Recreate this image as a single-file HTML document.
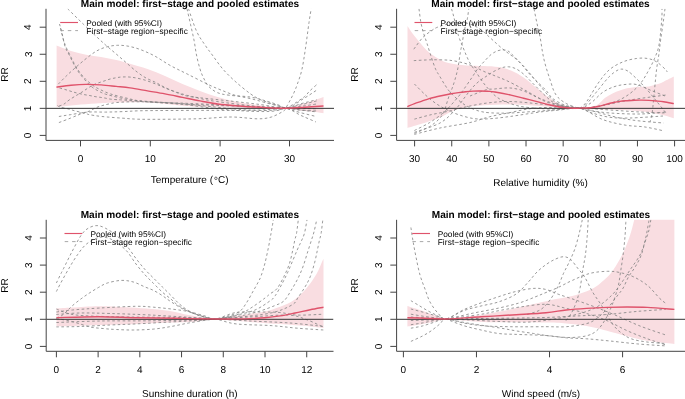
<!DOCTYPE html>
<html><head><meta charset="utf-8"><style>
*{margin:0;padding:0}
html,body{width:685px;height:399px;background:#fff;overflow:hidden}
svg{display:block}
text{font-family:"Liberation Sans",sans-serif;fill:#000;text-rendering:geometricPrecision}
.tl{font-size:10px}
.lb{font-size:10px}
.ti{font-size:10.07px;font-weight:bold}
.lg{font-size:8.3px}
.ax{fill:none;stroke:#444;stroke-width:1}
.tk{stroke:#444;stroke-width:1}
.ab{stroke:#333;stroke-width:1}
.rl{fill:none;stroke:#DF536B;stroke-width:1.4}
.txt{filter:grayscale(1)}
.dc{fill:none;stroke:#808080;stroke-width:0.8;stroke-dasharray:2.6 2.5}
</style></head>
<body><svg width="685" height="399" viewBox="0 0 685 399">
<rect width="685" height="399" fill="#fff"/>
<clipPath id="cp1"><rect x="46" y="8.8" width="288" height="131.6"/></clipPath>
<g clip-path="url(#cp1)">
<path d="M56.60,45.50C59.00,46.42 66.08,49.45 71.00,51.00C75.92,52.55 81.08,53.78 86.10,54.80C91.12,55.82 96.08,56.22 101.10,57.10C106.12,57.98 111.38,58.98 116.20,60.10C121.02,61.22 124.78,62.32 130.00,63.80C135.22,65.28 141.67,66.97 147.50,69.00C153.33,71.03 159.17,73.52 165.00,76.00C170.83,78.48 176.67,81.42 182.50,83.90C188.33,86.38 194.15,88.72 200.00,90.90C205.85,93.08 211.75,95.25 217.60,97.00C223.45,98.75 229.70,100.23 235.10,101.40C240.50,102.57 245.02,103.23 250.00,104.00C254.98,104.77 259.00,105.37 265.00,106.00C271.00,106.63 280.17,108.05 286.00,107.80C291.83,107.55 295.17,105.80 300.00,104.50C304.83,103.20 311.08,101.25 315.00,100.00C318.92,98.75 322.08,97.50 323.50,97.00L323.50,113.20C322.08,113.00 318.92,112.45 315.00,112.00C311.08,111.55 304.83,111.07 300.00,110.50C295.17,109.93 296.00,109.05 286.00,108.60C276.00,108.15 254.33,108.10 240.00,107.80C225.67,107.50 210.40,107.23 200.00,106.80C189.60,106.37 186.20,105.92 177.60,105.20C169.00,104.48 158.67,102.93 148.40,102.50C138.13,102.07 124.72,102.42 116.00,102.60C107.28,102.78 102.75,103.18 96.10,103.60C89.45,104.02 82.28,104.52 76.10,105.10C69.92,105.68 62.25,106.73 59.00,107.10C55.75,107.47 57.00,107.27 56.60,107.30Z" fill="#F9DDE1"/>
<path d="M67.70,8.80C70.33,11.38 78.82,19.77 83.50,24.30C88.18,28.83 92.12,32.55 95.80,36.00C99.48,39.45 102.20,42.00 105.60,45.00C109.00,48.00 112.68,50.98 116.20,54.00C119.72,57.02 123.20,60.08 126.70,63.10C130.20,66.12 133.95,69.60 137.20,72.10C140.45,74.60 143.07,76.35 146.20,78.10C149.33,79.85 152.87,81.03 156.00,82.60C159.13,84.17 161.55,85.83 165.00,87.50C168.45,89.17 173.00,91.17 176.70,92.60C180.40,94.03 183.12,95.22 187.20,96.10C191.28,96.98 194.07,97.08 201.20,97.90C208.33,98.72 220.20,99.90 230.00,101.00C239.80,102.10 250.67,103.30 260.00,104.50C269.33,105.70 279.33,108.28 286.00,108.20C292.67,108.12 294.90,105.42 300.00,104.00C305.10,102.58 313.83,100.42 316.60,99.70" class="dc"/>
<path d="M59.50,24.00C59.92,25.50 61.08,29.25 62.00,33.00C62.92,36.75 63.75,42.75 65.00,46.50C66.25,50.25 68.00,52.48 69.50,55.50C71.00,58.52 72.48,61.83 74.00,64.60C75.52,67.37 76.83,69.60 78.60,72.10C80.37,74.60 82.35,77.10 84.60,79.60C86.85,82.10 89.60,85.10 92.10,87.10C94.60,89.10 97.10,90.35 99.60,91.60C102.10,92.85 102.37,93.28 107.10,94.60C111.83,95.92 121.52,98.38 128.00,99.50C134.48,100.62 137.33,100.55 146.00,101.30C154.67,102.05 168.50,102.80 180.00,104.00C191.50,105.20 204.17,107.33 215.00,108.50C225.83,109.67 236.17,110.50 245.00,111.00C253.83,111.50 262.17,111.67 268.00,111.50C273.83,111.33 277.00,110.55 280.00,110.00C283.00,109.45 282.67,108.20 286.00,108.20C289.33,108.20 294.90,109.38 300.00,110.00C305.10,110.62 313.83,111.58 316.60,111.90" class="dc"/>
<path d="M60.50,28.00C60.88,29.58 61.92,34.42 62.80,37.50C63.68,40.58 64.57,43.50 65.80,46.50C67.03,49.50 68.70,52.48 70.20,55.50C71.70,58.52 73.25,61.83 74.80,64.60C76.35,67.37 77.68,69.65 79.50,72.10C81.32,74.55 83.45,77.07 85.70,79.30C87.95,81.53 90.62,83.80 93.00,85.50C95.38,87.20 97.05,88.08 100.00,89.50C102.95,90.92 106.00,92.50 110.70,94.00C115.40,95.50 122.65,97.25 128.20,98.50C133.75,99.75 135.37,100.58 144.00,101.50C152.63,102.42 167.33,103.33 180.00,104.00C192.67,104.67 206.67,104.97 220.00,105.50C233.33,106.03 249.00,106.75 260.00,107.20C271.00,107.65 278.83,109.57 286.00,108.20C293.17,106.83 297.90,102.00 303.00,99.00C308.10,96.00 314.33,91.67 316.60,90.20" class="dc"/>
<path d="M58.30,84.10C59.67,82.72 63.63,78.55 66.50,75.80C69.37,73.05 72.23,70.47 75.50,67.60C78.77,64.73 82.58,61.37 86.10,58.60C89.62,55.83 93.10,52.97 96.60,51.00C100.10,49.03 103.58,47.75 107.10,46.80C110.62,45.85 114.18,45.40 117.70,45.30C121.22,45.20 124.45,45.50 128.20,46.20C131.95,46.90 135.82,47.88 140.20,49.50C144.58,51.12 149.48,53.23 154.50,55.90C159.52,58.57 164.75,62.43 170.30,65.50C175.85,68.57 181.38,71.08 187.80,74.30C194.22,77.52 203.27,82.18 208.80,84.80C214.33,87.42 216.62,88.25 221.00,90.00C225.38,91.75 230.27,93.88 235.10,95.30C239.93,96.72 245.02,97.30 250.00,98.50C254.98,99.70 259.00,100.88 265.00,102.50C271.00,104.12 280.17,106.53 286.00,108.20C291.83,109.87 294.90,111.10 300.00,112.50C305.10,113.90 313.83,115.92 316.60,116.60" class="dc"/>
<path d="M59.00,106.10C59.83,105.77 62.33,105.10 64.00,104.10C65.67,103.10 66.98,101.52 69.00,100.10C71.02,98.68 73.92,96.95 76.10,95.60C78.28,94.25 80.10,93.27 82.10,92.00C84.10,90.73 86.27,89.17 88.10,88.00C89.93,86.83 91.43,85.83 93.10,85.00C94.77,84.17 96.27,83.67 98.10,83.00C99.93,82.33 102.08,81.67 104.10,81.00C106.12,80.33 108.22,79.53 110.20,79.00C112.18,78.47 114.03,78.13 116.00,77.80C117.97,77.47 119.47,77.10 122.00,77.00C124.53,76.90 127.67,76.77 131.20,77.20C134.73,77.63 139.07,78.45 143.20,79.60C147.33,80.75 151.88,82.52 156.00,84.10C160.12,85.68 163.28,87.38 167.90,89.10C172.52,90.82 178.73,92.93 183.70,94.40C188.67,95.87 193.32,96.88 197.70,97.90C202.08,98.92 202.95,99.40 210.00,100.50C217.05,101.60 230.83,103.42 240.00,104.50C249.17,105.58 257.33,106.38 265.00,107.00C272.67,107.62 280.10,106.83 286.00,108.20C291.90,109.57 296.43,113.35 300.40,115.20C304.37,117.05 307.20,118.17 309.80,119.30C312.40,120.43 314.97,121.55 316.00,122.00" class="dc"/>
<path d="M187.00,8.80C187.58,11.38 189.33,19.08 190.50,24.30C191.67,29.52 193.00,34.98 194.00,40.10C195.00,45.22 195.50,50.18 196.50,55.00C197.50,59.82 198.83,65.20 200.00,69.00C201.17,72.80 202.03,74.88 203.50,77.80C204.97,80.72 206.45,84.02 208.80,86.50C211.15,88.98 214.10,91.23 217.60,92.70C221.10,94.17 224.40,94.58 229.80,95.30C235.20,96.02 243.93,96.05 250.00,97.00C256.07,97.95 261.17,99.57 266.20,101.00C271.23,102.43 276.90,104.40 280.20,105.60C283.50,106.80 282.18,109.52 286.00,108.20C289.82,106.88 299.13,100.58 303.10,97.70C307.07,94.82 307.43,93.17 309.80,90.90C312.17,88.63 316.05,85.23 317.30,84.10" class="dc"/>
<path d="M188.50,8.80C189.85,12.55 193.85,25.27 196.60,31.30C199.35,37.33 202.38,41.05 205.00,45.00C207.62,48.95 209.33,51.00 212.30,55.00C215.27,59.00 219.00,64.62 222.80,69.00C226.60,73.38 230.57,77.22 235.10,81.30C239.63,85.38 245.85,90.47 250.00,93.50C254.15,96.53 256.72,97.92 260.00,99.50C263.28,101.08 265.75,101.68 269.70,103.00C273.65,104.32 280.98,106.53 283.70,107.40C286.42,108.27 283.28,108.35 286.00,108.20C288.72,108.05 294.90,107.20 300.00,106.50C305.10,105.80 313.83,104.42 316.60,104.00" class="dc"/>
<path d="M57.50,105.50C57.92,105.77 58.08,106.50 60.00,107.10C61.92,107.70 66.67,108.52 69.00,109.10C71.33,109.68 72.15,110.10 74.00,110.60C75.85,111.10 78.08,111.60 80.10,112.10C82.12,112.60 84.52,113.17 86.10,113.60C87.68,114.03 86.97,114.22 89.60,114.70C92.23,115.18 96.33,115.92 101.90,116.50C107.47,117.08 115.98,117.73 123.00,118.20C130.02,118.67 131.73,119.20 144.00,119.30C156.27,119.40 182.10,119.18 196.60,118.80C211.10,118.42 220.87,117.00 231.00,117.00C241.13,117.00 250.67,118.80 257.40,118.80C264.13,118.80 267.02,118.32 271.40,117.00C275.78,115.68 281.25,112.48 283.70,110.90C286.15,109.32 285.05,109.23 286.10,107.50C287.15,105.77 288.70,102.95 290.00,100.50C291.30,98.05 292.67,95.55 293.90,92.80C295.13,90.05 296.08,87.80 297.40,84.00C298.72,80.20 300.47,75.85 301.80,70.00C303.13,64.15 304.20,56.82 305.40,48.90C306.60,40.98 308.03,29.18 309.00,22.50C309.97,15.82 310.83,11.08 311.20,8.80" class="dc"/>
<path d="M59.50,88.00C60.42,88.25 63.25,89.00 65.00,89.50C66.75,90.00 68.33,90.50 70.00,91.00C71.67,91.50 72.65,91.90 75.00,92.50C77.35,93.10 81.58,94.08 84.10,94.60C86.62,95.12 88.27,95.27 90.10,95.60C91.93,95.93 93.43,96.32 95.10,96.60C96.77,96.88 98.43,97.05 100.10,97.30C101.77,97.55 103.42,97.80 105.10,98.10C106.78,98.40 108.38,98.85 110.20,99.10C112.02,99.35 113.87,99.45 116.00,99.60C118.13,99.75 118.33,99.67 123.00,100.00C127.67,100.33 134.67,101.10 144.00,101.60C153.33,102.10 166.33,102.47 179.00,103.00C191.67,103.53 206.50,104.17 220.00,104.80C233.50,105.43 249.00,106.23 260.00,106.80C271.00,107.37 279.33,107.92 286.00,108.20C292.67,108.48 294.90,108.40 300.00,108.50C305.10,108.60 313.83,108.75 316.60,108.80" class="dc"/>
<path d="M58.90,116.50C60.80,116.20 65.47,115.43 70.30,114.70C75.13,113.97 82.05,112.53 87.90,112.10C93.75,111.67 99.55,112.18 105.40,112.10C111.25,112.02 116.57,111.83 123.00,111.60C129.43,111.37 131.83,110.90 144.00,110.70C156.17,110.50 179.33,110.45 196.00,110.40C212.67,110.35 231.67,110.55 244.00,110.40C256.33,110.25 263.00,109.87 270.00,109.50C277.00,109.13 281.00,108.12 286.00,108.20C291.00,108.28 294.90,109.53 300.00,110.00C305.10,110.47 313.83,110.83 316.60,111.00" class="dc"/>
<path d="M58.90,122.60C60.80,121.87 66.93,119.53 70.30,118.20C73.67,116.87 76.63,115.53 79.10,114.60C81.57,113.67 83.27,113.23 85.10,112.60C86.93,111.97 88.27,111.63 90.10,110.80C91.93,109.97 94.10,108.47 96.10,107.60C98.10,106.73 100.08,106.18 102.10,105.60C104.12,105.02 105.88,104.60 108.20,104.10C110.52,103.60 112.37,102.98 116.00,102.60C119.63,102.22 124.33,101.90 130.00,101.80C135.67,101.70 141.67,101.72 150.00,102.00C158.33,102.28 170.00,102.75 180.00,103.50C190.00,104.25 200.00,105.50 210.00,106.50C220.00,107.50 230.83,108.83 240.00,109.50C249.17,110.17 258.33,110.50 265.00,110.50C271.67,110.50 276.50,109.88 280.00,109.50C283.50,109.12 282.67,108.95 286.00,108.20C289.33,107.45 294.90,106.20 300.00,105.00C305.10,103.80 313.83,101.67 316.60,101.00" class="dc"/>
<line x1="46" y1="108.35" x2="334" y2="108.35" class="ab"/>
<path d="M56.40,87.10C58.83,86.80 66.05,85.75 71.00,85.30C75.95,84.85 81.08,84.47 86.10,84.40C91.12,84.33 96.08,84.57 101.10,84.90C106.12,85.23 111.38,85.90 116.20,86.40C121.02,86.90 124.78,87.15 130.00,87.90C135.22,88.65 141.67,89.90 147.50,90.90C153.33,91.90 159.17,92.82 165.00,93.90C170.83,94.98 176.67,96.23 182.50,97.40C188.33,98.57 194.15,99.80 200.00,100.90C205.85,102.00 211.75,103.18 217.60,104.00C223.45,104.82 229.70,105.35 235.10,105.80C240.50,106.25 245.02,106.40 250.00,106.70C254.98,107.00 259.00,107.35 265.00,107.60C271.00,107.85 279.33,108.27 286.00,108.20C292.67,108.13 298.75,107.57 305.00,107.20C311.25,106.83 320.42,106.20 323.50,106.00" class="rl"/>
</g>
<path d="M46,8.80V140.40H334" class="ax"/>
<line x1="39.70" y1="135.40" x2="46" y2="135.40" class="tk"/>
<line x1="39.70" y1="108.35" x2="46" y2="108.35" class="tk"/>
<line x1="39.70" y1="81.30" x2="46" y2="81.30" class="tk"/>
<line x1="39.70" y1="54.25" x2="46" y2="54.25" class="tk"/>
<line x1="39.70" y1="27.20" x2="46" y2="27.20" class="tk"/>
<line x1="80.50" y1="140.4" x2="80.50" y2="146.40" class="tk"/>
<line x1="150.30" y1="140.4" x2="150.30" y2="146.40" class="tk"/>
<line x1="220.10" y1="140.4" x2="220.10" y2="146.40" class="tk"/>
<line x1="289.50" y1="140.4" x2="289.50" y2="146.40" class="tk"/>
<line x1="60.199999999999996" y1="22.5" x2="78.0" y2="22.5" stroke="#DF536B" stroke-width="1.15"/>
<line x1="60.4" y1="30.6" x2="78.0" y2="30.6" stroke="#999" stroke-width="0.85" stroke-dasharray="3.5 3.9"/>
<clipPath id="cp2"><rect x="396.6" y="8.8" width="288.4" height="131.6"/></clipPath>
<g clip-path="url(#cp2)">
<path d="M407.50,26.00C408.50,27.47 411.03,31.57 413.50,34.80C415.97,38.03 419.37,42.18 422.30,45.40C425.23,48.62 428.17,51.77 431.10,54.10C434.03,56.43 436.98,57.93 439.90,59.40C442.82,60.87 444.22,61.88 448.60,62.90C452.98,63.92 460.35,64.98 466.20,65.50C472.05,66.02 478.32,65.73 483.70,66.00C489.08,66.27 493.95,66.33 498.50,67.10C503.05,67.87 506.82,68.85 511.00,70.60C515.18,72.35 519.42,74.77 523.60,77.60C527.78,80.43 531.92,84.27 536.10,87.60C540.28,90.93 544.52,94.75 548.70,97.60C552.88,100.45 557.03,103.07 561.20,104.70C565.37,106.33 570.57,106.85 573.70,107.40C576.83,107.95 577.28,108.07 580.00,108.00C582.72,107.93 587.02,107.58 590.00,107.00C592.98,106.42 595.37,106.05 597.90,104.50C600.43,102.95 602.77,99.55 605.20,97.70C607.63,95.85 610.07,94.62 612.50,93.40C614.93,92.18 617.37,91.27 619.80,90.40C622.23,89.53 624.67,88.73 627.10,88.20C629.53,87.67 631.97,87.43 634.40,87.20C636.83,86.97 639.27,86.93 641.70,86.80C644.13,86.67 646.57,86.77 649.00,86.40C651.43,86.03 653.87,85.38 656.30,84.60C658.73,83.82 660.68,83.03 663.60,81.70C666.52,80.37 672.10,77.45 673.80,76.60L673.80,118.20C672.10,117.72 667.73,116.28 663.60,115.30C659.47,114.32 653.77,113.07 649.00,112.30C644.23,111.53 639.83,111.08 635.00,110.70C630.17,110.32 625.55,110.20 620.00,110.00C614.45,109.80 608.37,109.77 601.70,109.50C595.03,109.23 585.95,108.65 580.00,108.40C574.05,108.15 571.67,108.32 566.00,108.00C560.33,107.68 553.78,107.05 546.00,106.50C538.22,105.95 527.63,105.00 519.30,104.70C510.97,104.40 503.77,104.43 496.00,104.70C488.23,104.97 479.37,105.47 472.70,106.30C466.03,107.13 460.02,108.58 456.00,109.70C451.98,110.82 451.28,111.72 448.60,113.00C445.92,114.28 444.28,115.65 439.90,117.40C435.52,119.15 427.70,121.75 422.30,123.50C416.90,125.25 409.97,127.17 407.50,127.90Z" fill="#F9DDE1"/>
<path d="M419.00,8.80C419.30,11.00 420.07,18.03 420.80,22.00C421.53,25.97 422.38,29.08 423.40,32.60C424.42,36.12 425.58,39.02 426.90,43.10C428.22,47.18 429.83,52.72 431.30,57.10C432.77,61.48 434.35,66.30 435.70,69.40C437.05,72.50 437.82,73.03 439.40,75.70C440.98,78.37 443.25,82.47 445.20,85.40C447.15,88.33 448.48,90.52 451.10,93.30C453.72,96.08 457.97,99.82 460.90,102.10C463.83,104.38 465.77,105.53 468.70,107.00C471.63,108.47 474.95,109.93 478.50,110.90C482.05,111.87 484.75,112.45 490.00,112.80C495.25,113.15 501.67,113.30 510.00,113.00C518.33,112.70 531.67,111.58 540.00,111.00C548.33,110.42 553.33,109.97 560.00,109.50C566.67,109.03 573.33,107.62 580.00,108.20C586.67,108.78 593.33,111.37 600.00,113.00C606.67,114.63 613.33,116.67 620.00,118.00C626.67,119.33 632.75,120.17 640.00,121.00C647.25,121.83 659.58,122.67 663.50,123.00" class="dc"/>
<path d="M413.80,49.20C415.25,47.30 419.58,40.87 422.50,37.80C425.42,34.73 428.72,32.60 431.30,30.80C433.88,29.00 434.88,28.22 438.00,27.00C441.12,25.78 446.33,24.25 450.00,23.50C453.67,22.75 456.67,22.42 460.00,22.50C463.33,22.58 466.67,22.92 470.00,24.00C473.33,25.08 476.78,26.83 480.00,29.00C483.22,31.17 486.47,34.50 489.30,37.00C492.13,39.50 494.55,41.83 497.00,44.00C499.45,46.17 501.83,48.25 504.00,50.00C506.17,51.75 508.00,53.00 510.00,54.50C512.00,56.00 513.98,57.25 516.00,59.00C518.02,60.75 519.83,62.48 522.10,65.00C524.37,67.52 527.10,71.33 529.60,74.10C532.10,76.87 534.33,78.85 537.10,81.60C539.87,84.35 543.68,87.85 546.20,90.60C548.72,93.35 549.57,95.87 552.20,98.10C554.83,100.33 559.03,102.60 562.00,104.00C564.97,105.40 567.00,105.80 570.00,106.50C573.00,107.20 576.67,107.53 580.00,108.20C583.33,108.87 585.00,109.70 590.00,110.50C595.00,111.30 601.67,112.42 610.00,113.00C618.33,113.58 630.67,114.17 640.00,114.00C649.33,113.83 661.67,112.33 666.00,112.00" class="dc"/>
<path d="M413.80,60.60C416.72,60.47 425.93,59.90 431.30,59.80C436.67,59.70 442.30,59.83 446.00,60.00C449.70,60.17 451.00,60.42 453.50,60.80C456.00,61.18 458.48,61.68 461.00,62.30C463.52,62.92 466.08,63.62 468.60,64.50C471.12,65.38 473.60,66.47 476.10,67.60C478.60,68.73 481.10,70.18 483.60,71.30C486.10,72.42 488.60,73.30 491.10,74.30C493.60,75.30 496.12,76.30 498.60,77.30C501.08,78.30 503.10,78.97 506.00,80.30C508.90,81.63 513.07,83.78 516.00,85.30C518.93,86.82 521.08,88.02 523.60,89.40C526.12,90.78 528.60,92.15 531.10,93.60C533.60,95.05 536.08,96.72 538.60,98.10C541.12,99.48 542.63,100.58 546.20,101.90C549.77,103.22 554.37,104.95 560.00,106.00C565.63,107.05 573.33,108.20 580.00,108.20C586.67,108.20 591.67,107.37 600.00,106.00C608.33,104.63 619.00,101.83 630.00,100.00C641.00,98.17 660.00,95.83 666.00,95.00" class="dc"/>
<path d="M414.40,84.00C416.28,85.87 422.20,92.02 425.70,95.20C429.20,98.38 432.15,100.82 435.40,103.10C438.65,105.38 441.28,106.95 445.20,108.90C449.12,110.85 454.00,113.17 458.90,114.80C463.80,116.43 469.42,118.05 474.60,118.70C479.78,119.35 484.10,119.07 490.00,118.70C495.90,118.33 501.67,117.62 510.00,116.50C518.33,115.38 531.67,113.08 540.00,112.00C548.33,110.92 553.33,110.63 560.00,110.00C566.67,109.37 572.90,106.62 580.00,108.20C587.10,109.78 595.08,116.68 602.60,119.50C610.12,122.32 618.03,123.85 625.10,125.10C632.17,126.35 638.60,126.05 645.00,127.00C651.40,127.95 660.42,130.17 663.50,130.80" class="dc"/>
<path d="M414.40,119.10C417.18,118.37 425.40,116.02 431.10,114.70C436.80,113.38 442.75,112.52 448.60,111.20C454.45,109.88 459.73,108.17 466.20,106.80C472.67,105.43 480.10,103.88 487.40,103.00C494.70,102.12 501.23,101.33 510.00,101.50C518.77,101.67 531.67,103.17 540.00,104.00C548.33,104.83 553.33,105.80 560.00,106.50C566.67,107.20 574.78,107.17 580.00,108.20C585.22,109.23 586.42,111.20 591.30,112.70C596.18,114.20 602.85,116.32 609.30,117.20C615.75,118.08 621.05,118.20 630.00,118.00C638.95,117.80 657.50,116.33 663.00,116.00" class="dc"/>
<path d="M414.40,133.40C416.93,132.25 425.43,128.95 429.60,126.50C433.77,124.05 436.97,121.30 439.40,118.70C441.83,116.10 442.60,114.67 444.20,110.90C445.80,107.13 447.70,99.82 449.00,96.10C450.30,92.38 451.00,91.35 452.00,88.60C453.00,85.85 454.00,83.10 455.00,79.60C456.00,76.10 457.12,72.12 458.00,67.60C458.88,63.08 459.67,56.27 460.30,52.50C460.93,48.73 461.07,48.92 461.80,45.00C462.53,41.08 463.77,33.42 464.70,29.00C465.63,24.58 466.73,21.87 467.40,18.50C468.07,15.13 468.48,10.42 468.70,8.80" class="dc"/>
<path d="M451.50,8.80C451.87,10.07 452.55,11.97 453.70,16.40C454.85,20.83 456.80,30.13 458.40,35.40C460.00,40.67 461.87,44.40 463.30,48.00C464.73,51.60 465.75,54.25 467.00,57.00C468.25,59.75 469.28,61.98 470.80,64.50C472.32,67.02 474.22,69.33 476.10,72.10C477.98,74.87 480.10,78.35 482.10,81.10C484.10,83.85 485.85,86.10 488.10,88.60C490.35,91.10 493.10,94.10 495.60,96.10C498.10,98.10 499.25,98.95 503.10,100.60C506.95,102.25 512.55,104.68 518.70,106.00C524.85,107.32 533.12,108.00 540.00,108.50C546.88,109.00 553.33,109.05 560.00,109.00C566.67,108.95 574.42,108.52 580.00,108.20C585.58,107.88 588.62,107.85 593.50,107.10C598.38,106.35 604.03,105.40 609.30,103.70C614.57,102.00 620.20,99.92 625.10,96.90C630.00,93.88 634.93,89.73 638.70,85.60C642.47,81.47 645.07,76.62 647.70,72.10C650.33,67.58 652.62,63.02 654.50,58.50C656.38,53.98 657.80,51.42 659.00,45.00C660.20,38.58 661.20,26.03 661.70,20.00C662.20,13.97 661.95,10.67 662.00,8.80" class="dc"/>
<path d="M414.40,130.50C416.93,129.18 424.78,125.55 429.60,122.60C434.42,119.65 439.72,115.73 443.30,112.80C446.88,109.87 448.50,107.80 451.10,105.00C453.70,102.20 456.75,98.67 458.90,96.00C461.05,93.33 461.88,92.00 464.00,89.00C466.12,86.00 469.33,81.33 471.60,78.00C473.87,74.67 475.35,71.92 477.60,69.00C479.85,66.08 482.85,62.92 485.10,60.50C487.35,58.08 489.10,56.08 491.10,54.50C493.10,52.92 495.10,51.78 497.10,51.00C499.10,50.22 501.28,49.80 503.10,49.80C504.92,49.80 506.58,50.30 508.00,51.00C509.42,51.70 509.75,52.25 511.60,54.00C513.45,55.75 516.60,58.92 519.10,61.50C521.60,64.08 524.10,66.65 526.60,69.50C529.10,72.35 531.60,75.58 534.10,78.60C536.60,81.62 539.08,84.60 541.60,87.60C544.12,90.60 546.80,94.10 549.20,96.60C551.60,99.10 553.37,101.03 556.00,102.60C558.63,104.17 561.00,105.07 565.00,106.00C569.00,106.93 576.37,108.58 580.00,108.20C583.63,107.82 583.80,106.72 586.80,103.70C589.80,100.68 594.25,94.62 598.00,90.10C601.75,85.58 605.90,79.98 609.30,76.60C612.70,73.22 615.77,70.93 618.40,69.80C621.03,68.67 622.85,69.05 625.10,69.80C627.35,70.55 628.50,71.28 631.90,74.30C635.30,77.32 641.37,83.38 645.50,87.90C649.63,92.42 653.32,97.27 656.70,101.40C660.08,105.53 664.28,110.82 665.80,112.70" class="dc"/>
<path d="M414.40,132.30C418.67,130.75 433.23,126.72 440.00,123.00C446.77,119.28 450.83,114.33 455.00,110.00C459.17,105.67 462.00,100.83 465.00,97.00C468.00,93.17 470.50,89.75 473.00,87.00C475.50,84.25 477.83,82.25 480.00,80.50C482.17,78.75 484.00,77.83 486.00,76.50C488.00,75.17 489.50,73.92 492.00,72.50C494.50,71.08 498.23,68.95 501.00,68.00C503.77,67.05 506.10,66.67 508.60,66.80C511.10,66.93 513.50,67.58 516.00,68.80C518.50,70.02 521.08,71.97 523.60,74.10C526.12,76.23 528.60,79.10 531.10,81.60C533.60,84.10 536.08,86.60 538.60,89.10C541.12,91.60 543.68,94.35 546.20,96.60C548.72,98.85 550.57,100.95 553.70,102.60C556.83,104.25 560.62,105.57 565.00,106.50C569.38,107.43 575.83,107.87 580.00,108.20C584.17,108.53 585.00,108.20 590.00,108.50C595.00,108.80 601.67,109.42 610.00,110.00C618.33,110.58 630.83,111.50 640.00,112.00C649.17,112.50 660.83,112.83 665.00,113.00" class="dc"/>
<path d="M534.00,8.80C534.45,11.00 535.67,17.17 536.70,22.00C537.73,26.83 539.25,32.88 540.20,37.80C541.15,42.72 541.67,47.47 542.40,51.50C543.13,55.53 543.72,58.48 544.60,62.00C545.48,65.52 546.68,69.33 547.70,72.60C548.72,75.87 549.70,78.60 550.70,81.60C551.70,84.60 552.47,87.95 553.70,90.60C554.93,93.25 556.02,95.35 558.10,97.50C560.18,99.65 563.18,101.83 566.20,103.50C569.22,105.17 573.90,106.72 576.20,107.50C578.50,108.28 578.23,109.22 580.00,108.20C581.77,107.18 583.80,105.53 586.80,101.40C589.80,97.27 594.25,88.67 598.00,83.40C601.75,78.13 605.15,73.38 609.30,69.80C613.45,66.22 618.38,63.78 622.90,61.90C627.42,60.02 632.27,59.07 636.40,58.50C640.53,57.93 644.32,57.93 647.70,58.50C651.08,59.07 653.68,60.02 656.70,61.90C659.72,63.78 664.08,68.12 665.80,69.80C667.52,71.48 666.80,71.63 667.00,72.00" class="dc"/>
<path d="M414.40,134.40C418.67,133.33 430.77,129.97 440.00,128.00C449.23,126.03 461.57,124.47 469.80,122.60C478.03,120.73 482.88,118.43 489.40,116.80C495.92,115.17 502.38,114.12 508.90,112.80C515.42,111.48 522.48,109.78 528.50,108.90C534.52,108.02 539.75,107.65 545.00,107.50C550.25,107.35 554.17,107.88 560.00,108.00C565.83,108.12 574.78,109.10 580.00,108.20C585.22,107.30 587.53,105.23 591.30,102.60C595.07,99.97 598.83,95.03 602.60,92.40C606.37,89.77 610.17,88.12 613.90,86.80C617.63,85.48 621.25,84.88 625.00,84.50C628.75,84.12 632.23,83.58 636.40,84.50C640.57,85.42 645.23,88.08 650.00,90.00C654.77,91.92 662.50,95.00 665.00,96.00" class="dc"/>
<path d="M665.00,8.80C664.70,11.08 663.93,17.28 663.20,22.50C662.47,27.72 661.32,34.83 660.60,40.10C659.88,45.37 659.58,49.12 658.90,54.10C658.22,59.08 657.23,64.00 656.50,70.00C655.77,76.00 655.22,82.98 654.50,90.10C653.78,97.22 652.95,107.38 652.20,112.70C651.45,118.02 650.37,120.45 650.00,122.00" class="dc"/>
<path d="M470.00,96.00C472.67,94.97 482.08,90.95 486.00,89.80C489.92,88.65 491.00,89.35 493.50,89.10C496.00,88.85 498.48,88.50 501.00,88.30C503.52,88.10 506.10,87.82 508.60,87.90C511.10,87.98 513.50,88.30 516.00,88.80C518.50,89.30 521.08,89.97 523.60,90.90C526.12,91.83 528.37,93.13 531.10,94.40C533.83,95.67 536.02,96.90 540.00,98.50C543.98,100.10 550.00,102.53 555.00,104.00C560.00,105.47 565.83,106.60 570.00,107.30C574.17,108.00 578.33,108.05 580.00,108.20" class="dc"/>
<line x1="396.6" y1="108.35" x2="685" y2="108.35" class="ab"/>
<path d="M407.30,106.60C408.52,106.12 412.17,104.60 414.60,103.70C417.03,102.80 419.47,102.05 421.90,101.20C424.33,100.35 426.77,99.33 429.20,98.60C431.63,97.87 434.07,97.37 436.50,96.80C438.93,96.23 441.37,95.70 443.80,95.20C446.23,94.70 448.67,94.23 451.10,93.80C453.53,93.37 455.97,92.95 458.40,92.60C460.83,92.25 463.27,91.95 465.70,91.70C468.13,91.45 470.57,91.22 473.00,91.10C475.43,90.97 477.87,90.92 480.30,90.95C482.73,90.98 485.17,91.12 487.60,91.30C490.03,91.47 491.00,91.37 494.90,92.00C498.80,92.63 506.22,94.07 511.00,95.10C515.78,96.13 519.42,97.15 523.60,98.20C527.78,99.25 531.92,100.32 536.10,101.40C540.28,102.48 544.52,103.73 548.70,104.70C552.88,105.67 557.03,106.62 561.20,107.20C565.37,107.78 570.53,108.05 573.70,108.20C576.87,108.35 577.38,108.18 580.20,108.10C583.02,108.02 587.65,107.97 590.60,107.70C593.55,107.43 595.47,107.02 597.90,106.50C600.33,105.98 602.77,105.22 605.20,104.60C607.63,103.98 610.07,103.33 612.50,102.80C614.93,102.27 617.37,101.75 619.80,101.40C622.23,101.05 624.67,100.90 627.10,100.70C629.53,100.50 631.97,100.30 634.40,100.20C636.83,100.10 639.27,100.07 641.70,100.10C644.13,100.13 646.57,100.25 649.00,100.40C651.43,100.55 653.87,100.77 656.30,101.00C658.73,101.23 660.68,101.37 663.60,101.80C666.52,102.23 672.10,103.30 673.80,103.60" class="rl"/>
</g>
<path d="M396.6,8.80V140.40H685" class="ax"/>
<line x1="390.30" y1="135.40" x2="396.6" y2="135.40" class="tk"/>
<line x1="390.30" y1="108.35" x2="396.6" y2="108.35" class="tk"/>
<line x1="390.30" y1="81.30" x2="396.6" y2="81.30" class="tk"/>
<line x1="390.30" y1="54.25" x2="396.6" y2="54.25" class="tk"/>
<line x1="390.30" y1="27.20" x2="396.6" y2="27.20" class="tk"/>
<line x1="414.60" y1="140.4" x2="414.60" y2="146.40" class="tk"/>
<line x1="451.74" y1="140.4" x2="451.74" y2="146.40" class="tk"/>
<line x1="488.88" y1="140.4" x2="488.88" y2="146.40" class="tk"/>
<line x1="526.02" y1="140.4" x2="526.02" y2="146.40" class="tk"/>
<line x1="563.16" y1="140.4" x2="563.16" y2="146.40" class="tk"/>
<line x1="600.30" y1="140.4" x2="600.30" y2="146.40" class="tk"/>
<line x1="637.44" y1="140.4" x2="637.44" y2="146.40" class="tk"/>
<line x1="674.58" y1="140.4" x2="674.58" y2="146.40" class="tk"/>
<line x1="414.5" y1="22.5" x2="432.3" y2="22.5" stroke="#DF536B" stroke-width="1.15"/>
<line x1="414.70000000000005" y1="30.6" x2="432.3" y2="30.6" stroke="#999" stroke-width="0.85" stroke-dasharray="3.5 3.9"/>
<clipPath id="cp3"><rect x="46.2" y="219.8" width="287.3" height="131.5"/></clipPath>
<g clip-path="url(#cp3)">
<path d="M56.50,308.50C59.13,308.35 65.28,307.98 72.30,307.60C79.32,307.22 89.82,306.27 98.60,306.20C107.38,306.13 117.10,306.82 125.00,307.20C132.90,307.58 138.50,307.87 146.00,308.50C153.50,309.13 162.90,309.90 170.00,311.00C177.10,312.10 182.77,313.97 188.60,315.10C194.43,316.23 200.52,317.15 205.00,317.80C209.48,318.45 210.50,319.25 215.50,319.00C220.50,318.75 228.92,317.20 235.00,316.30C241.08,315.40 247.00,314.42 252.00,313.60C257.00,312.78 261.57,312.10 265.00,311.40C268.43,310.70 270.08,310.17 272.60,309.40C275.12,308.63 277.60,307.73 280.10,306.80C282.60,305.87 285.10,305.05 287.60,303.80C290.10,302.55 292.60,301.17 295.10,299.30C297.60,297.43 300.08,295.23 302.60,292.60C305.12,289.97 307.93,286.52 310.20,283.50C312.47,280.48 314.70,277.00 316.20,274.50C317.70,272.00 318.32,270.42 319.20,268.50C320.08,266.58 320.78,264.62 321.50,263.00C322.22,261.38 323.17,259.50 323.50,258.80L323.50,328.00C321.28,327.73 317.43,327.05 310.20,326.40C302.97,325.75 290.13,324.85 280.10,324.10C270.07,323.35 257.35,322.42 250.00,321.90C242.65,321.38 241.75,321.45 236.00,321.00C230.25,320.55 220.67,319.32 215.50,319.20C210.33,319.08 209.48,319.82 205.00,320.30C200.52,320.78 196.10,321.65 188.60,322.10C181.10,322.55 168.77,322.70 160.00,323.00C151.23,323.30 146.23,323.55 136.00,323.90C125.77,324.25 109.22,324.75 98.60,325.10C87.98,325.45 79.32,325.82 72.30,326.00C65.28,326.18 59.13,326.17 56.50,326.20Z" fill="#F9DDE1"/>
<path d="M56.40,283.00C57.00,281.75 58.82,277.90 60.00,275.50C61.18,273.10 61.45,272.67 63.50,268.60C65.55,264.53 69.37,256.65 72.30,251.10C75.23,245.55 78.47,239.10 81.10,235.30C83.73,231.50 85.47,229.92 88.10,228.30C90.73,226.68 93.98,225.60 96.90,225.60C99.82,225.60 102.38,226.68 105.60,228.30C108.82,229.92 112.68,232.38 116.20,235.30C119.72,238.22 123.40,241.93 126.70,245.80C130.00,249.67 132.98,254.58 136.00,258.50C139.02,262.42 141.88,266.03 144.80,269.30C147.72,272.57 150.58,275.17 153.50,278.10C156.42,281.03 159.37,283.98 162.30,286.90C165.23,289.82 168.17,292.68 171.10,295.60C174.03,298.52 176.75,301.75 179.90,304.40C183.05,307.05 186.15,309.48 190.00,311.50C193.85,313.52 198.75,315.25 203.00,316.50C207.25,317.75 211.33,319.08 215.50,319.00C219.67,318.92 224.00,317.23 228.00,316.00C232.00,314.77 236.42,313.80 239.50,311.60C242.58,309.40 244.17,306.32 246.50,302.80C248.83,299.28 251.53,293.97 253.50,290.50C255.47,287.03 257.02,284.48 258.30,282.00C259.58,279.52 260.10,278.70 261.20,275.60C262.30,272.50 263.70,268.07 264.90,263.40C266.10,258.73 267.38,252.58 268.40,247.60C269.42,242.62 270.23,237.77 271.00,233.50C271.77,229.23 272.62,224.28 273.00,222.00C273.38,219.72 273.25,220.17 273.30,219.80" class="dc"/>
<path d="M56.40,291.50C57.00,290.32 57.93,288.22 60.00,284.40C62.07,280.58 65.87,273.57 68.80,268.60C71.73,263.63 74.67,258.68 77.60,254.60C80.53,250.52 82.90,246.95 86.40,244.10C89.90,241.25 95.00,238.52 98.60,237.50C102.20,236.48 105.07,237.20 108.00,238.00C110.93,238.80 113.08,240.13 116.20,242.30C119.32,244.47 123.40,247.38 126.70,251.00C130.00,254.62 132.98,260.07 136.00,264.00C139.02,267.93 141.88,271.37 144.80,274.60C147.72,277.83 150.58,280.48 153.50,283.40C156.42,286.32 159.37,289.47 162.30,292.10C165.23,294.73 168.47,297.00 171.10,299.20C173.73,301.40 174.95,303.17 178.10,305.30C181.25,307.43 185.85,310.08 190.00,312.00C194.15,313.92 198.75,315.63 203.00,316.80C207.25,317.97 211.00,319.05 215.50,319.00C220.00,318.95 225.42,317.58 230.00,316.50C234.58,315.42 239.08,314.20 243.00,312.50C246.92,310.80 249.83,308.72 253.50,306.30C257.17,303.88 262.25,300.07 265.00,298.00C267.75,295.93 268.00,295.47 270.00,293.90C272.00,292.33 274.67,291.53 277.00,288.60C279.33,285.67 281.95,280.40 284.00,276.30C286.05,272.20 287.83,268.38 289.30,264.00C290.77,259.62 291.88,254.00 292.80,250.00C293.72,246.00 294.18,242.75 294.80,240.00C295.42,237.25 295.92,236.87 296.50,233.50C297.08,230.13 298.00,222.08 298.30,219.80" class="dc"/>
<path d="M56.40,318.00C57.30,317.58 60.03,316.65 61.80,315.50C63.57,314.35 65.25,312.72 67.00,311.10C68.75,309.48 69.95,307.85 72.30,305.80C74.65,303.75 78.17,300.98 81.10,298.80C84.03,296.62 86.98,294.60 89.90,292.70C92.82,290.80 95.68,289.02 98.60,287.40C101.52,285.78 103.60,284.17 107.40,283.00C111.20,281.83 117.02,280.55 121.40,280.40C125.78,280.25 129.80,281.02 133.70,282.10C137.60,283.18 141.50,285.52 144.80,286.90C148.10,288.28 150.58,288.95 153.50,290.40C156.42,291.85 159.37,293.70 162.30,295.60C165.23,297.50 167.32,299.40 171.10,301.80C174.88,304.20 179.68,307.55 185.00,310.00C190.32,312.45 197.92,315.00 203.00,316.50C208.08,318.00 210.17,319.17 215.50,319.00C220.83,318.83 228.42,317.00 235.00,315.50C241.58,314.00 249.17,312.43 255.00,310.00C260.83,307.57 266.62,303.30 270.00,300.90C273.38,298.50 273.25,298.53 275.30,295.60C277.35,292.67 280.27,287.10 282.30,283.30C284.33,279.50 285.75,276.60 287.50,272.80C289.25,269.00 291.18,264.30 292.80,260.50C294.42,256.70 295.85,253.08 297.20,250.00C298.55,246.92 299.70,244.75 300.90,242.00C302.10,239.25 303.38,237.20 304.40,233.50C305.42,229.80 306.57,222.08 307.00,219.80" class="dc"/>
<path d="M56.40,318.50C59.05,319.02 66.72,320.20 72.30,321.60C77.88,323.00 84.63,325.73 89.90,326.90C95.17,328.07 99.52,328.17 103.90,328.60C108.28,329.03 111.23,329.27 116.20,329.50C121.17,329.73 127.48,330.07 133.70,330.00C139.92,329.93 147.27,329.68 153.50,329.10C159.73,328.52 165.25,327.52 171.10,326.50C176.95,325.48 182.95,324.03 188.60,323.00C194.25,321.97 200.52,320.97 205.00,320.30C209.48,319.63 209.67,319.72 215.50,319.00C221.33,318.28 232.58,317.33 240.00,316.00C247.42,314.67 254.17,312.75 260.00,311.00C265.83,309.25 271.00,307.18 275.00,305.50C279.00,303.82 281.32,303.42 284.00,300.90C286.68,298.38 288.75,294.20 291.10,290.40C293.45,286.60 296.07,282.20 298.10,278.10C300.13,274.00 301.70,270.18 303.30,265.80C304.90,261.42 306.33,256.10 307.70,251.80C309.07,247.50 310.43,243.38 311.50,240.00C312.57,236.62 313.23,234.87 314.10,231.50C314.97,228.13 316.27,221.75 316.70,219.80" class="dc"/>
<path d="M56.40,326.90C60.33,326.83 71.07,326.82 80.00,326.50C88.93,326.18 100.67,325.43 110.00,325.00C119.33,324.57 126.00,324.40 136.00,323.90C146.00,323.40 159.33,322.60 170.00,322.00C180.67,321.40 192.42,320.80 200.00,320.30C207.58,319.80 207.17,319.72 215.50,319.00C223.83,318.28 240.08,317.17 250.00,316.00C259.92,314.83 267.87,313.93 275.00,312.00C282.13,310.07 288.95,306.83 292.80,304.40C296.65,301.97 296.05,300.33 298.10,297.40C300.15,294.47 303.05,290.32 305.10,286.80C307.15,283.28 308.80,280.38 310.40,276.30C312.00,272.22 313.53,266.68 314.70,262.30C315.87,257.92 316.60,253.72 317.40,250.00C318.20,246.28 318.88,242.75 319.50,240.00C320.12,237.25 320.55,236.87 321.10,233.50C321.65,230.13 322.52,222.08 322.80,219.80" class="dc"/>
<path d="M56.40,312.00C59.05,311.67 65.03,310.67 72.30,310.00C79.57,309.33 89.38,308.62 100.00,308.00C110.62,307.38 127.08,306.43 136.00,306.30C144.92,306.17 147.65,306.75 153.50,307.20C159.35,307.65 165.25,308.27 171.10,309.00C176.95,309.73 182.95,310.43 188.60,311.60C194.25,312.77 200.52,314.77 205.00,316.00C209.48,317.23 210.33,319.58 215.50,319.00C220.67,318.42 228.58,313.67 236.00,312.50C243.42,311.33 252.68,312.00 260.00,312.00C267.32,312.00 273.67,311.98 279.90,312.50C286.13,313.02 290.10,314.82 297.40,315.10C304.70,315.38 319.32,314.35 323.70,314.20" class="dc"/>
<path d="M56.40,322.50C63.67,322.25 84.40,321.28 100.00,321.00C115.60,320.72 133.33,321.00 150.00,320.80C166.67,320.60 189.08,320.10 200.00,319.80C210.92,319.50 207.17,319.47 215.50,319.00C223.83,318.53 237.82,317.65 250.00,317.00C262.18,316.35 279.23,314.68 288.60,315.10C297.97,315.52 300.93,317.75 306.20,319.50C311.47,321.25 317.28,324.35 320.20,325.60C323.12,326.85 323.12,326.77 323.70,327.00" class="dc"/>
<path d="M56.40,314.50C60.33,314.25 71.07,313.17 80.00,313.00C88.93,312.83 98.33,313.17 110.00,313.50C121.67,313.83 135.00,314.25 150.00,315.00C165.00,315.75 189.08,317.33 200.00,318.00C210.92,318.67 209.50,318.02 215.50,319.00C221.50,319.98 226.73,322.80 236.00,323.90C245.27,325.00 260.87,324.88 271.10,325.60C281.33,326.32 288.63,327.47 297.40,328.20C306.17,328.93 319.32,329.70 323.70,330.00" class="dc"/>
<path d="M56.40,309.00C58.67,309.83 64.40,312.83 70.00,314.00C75.60,315.17 80.00,315.50 90.00,316.00C100.00,316.50 115.00,316.75 130.00,317.00C145.00,317.25 167.50,317.25 180.00,317.50C192.50,317.75 199.08,318.25 205.00,318.50C210.92,318.75 208.00,318.58 215.50,319.00C223.00,319.42 237.58,320.33 250.00,321.00C262.42,321.67 277.72,322.08 290.00,323.00C302.28,323.92 318.08,325.92 323.70,326.50" class="dc"/>
<line x1="46.2" y1="319.30" x2="333.5" y2="319.30" class="ab"/>
<path d="M56.50,317.60C63.52,317.45 85.35,316.68 98.60,316.70C111.85,316.72 123.27,317.43 136.00,317.70C148.73,317.97 161.75,318.08 175.00,318.30C188.25,318.52 205.50,318.90 215.50,319.00C225.50,319.10 229.25,318.97 235.00,318.90C240.75,318.83 245.00,318.78 250.00,318.60C255.00,318.42 259.98,318.25 265.00,317.80C270.02,317.35 275.08,316.70 280.10,315.90C285.12,315.10 290.08,314.02 295.10,313.00C300.12,311.98 305.47,310.75 310.20,309.80C314.93,308.85 321.28,307.72 323.50,307.30" class="rl"/>
</g>
<path d="M46.2,219.80V351.30H333.5" class="ax"/>
<line x1="39.90" y1="346.40" x2="46.2" y2="346.40" class="tk"/>
<line x1="39.90" y1="319.30" x2="46.2" y2="319.30" class="tk"/>
<line x1="39.90" y1="292.20" x2="46.2" y2="292.20" class="tk"/>
<line x1="39.90" y1="265.10" x2="46.2" y2="265.10" class="tk"/>
<line x1="39.90" y1="238.00" x2="46.2" y2="238.00" class="tk"/>
<line x1="56.40" y1="351.3" x2="56.40" y2="357.30" class="tk"/>
<line x1="98.12" y1="351.3" x2="98.12" y2="357.30" class="tk"/>
<line x1="139.84" y1="351.3" x2="139.84" y2="357.30" class="tk"/>
<line x1="181.56" y1="351.3" x2="181.56" y2="357.30" class="tk"/>
<line x1="223.28" y1="351.3" x2="223.28" y2="357.30" class="tk"/>
<line x1="265.00" y1="351.3" x2="265.00" y2="357.30" class="tk"/>
<line x1="306.72" y1="351.3" x2="306.72" y2="357.30" class="tk"/>
<line x1="64.5" y1="233.5" x2="82.3" y2="233.5" stroke="#DF536B" stroke-width="1.15"/>
<line x1="64.69999999999999" y1="241.60000000000002" x2="82.3" y2="241.60000000000002" stroke="#999" stroke-width="0.85" stroke-dasharray="3.5 3.9"/>
<clipPath id="cp4"><rect x="396.6" y="219.8" width="289.4" height="131.5"/></clipPath>
<g clip-path="url(#cp4)">
<path d="M407.40,306.00C409.50,306.67 415.40,308.42 420.00,310.00C424.60,311.58 430.67,314.00 435.00,315.50C439.33,317.00 441.25,318.67 446.00,319.00C450.75,319.33 457.65,318.15 463.50,317.50C469.35,316.85 475.25,316.07 481.10,315.10C486.95,314.13 492.75,312.87 498.60,311.70C504.45,310.53 510.13,309.42 516.20,308.10C522.27,306.78 530.03,304.93 535.00,303.80C539.97,302.67 542.50,302.08 546.00,301.30C549.50,300.52 552.67,299.77 556.00,299.10C559.33,298.43 562.65,298.00 566.00,297.30C569.35,296.60 572.75,295.85 576.10,294.90C579.45,293.95 582.77,293.00 586.10,291.60C589.43,290.20 593.10,288.43 596.10,286.50C599.10,284.57 601.75,282.08 604.10,280.00C606.45,277.92 608.47,276.00 610.20,274.00C611.93,272.00 612.92,270.43 614.50,268.00C616.08,265.57 617.95,262.60 619.70,259.40C621.45,256.20 623.25,252.90 625.00,248.80C626.75,244.70 628.62,239.77 630.20,234.80C631.78,229.83 633.20,223.97 634.50,219.00C635.80,214.03 636.25,209.83 638.00,205.00C639.75,200.17 638.93,193.33 645.00,190.00C651.07,186.67 669.50,185.83 674.40,185.00L674.40,343.90C671.17,343.55 661.18,342.65 655.00,341.80C648.82,340.95 645.32,340.65 637.30,338.80C629.28,336.95 615.35,332.83 606.90,330.70C598.45,328.57 593.37,327.20 586.60,326.00C579.83,324.80 573.07,324.07 566.30,323.50C559.53,322.93 554.35,322.80 546.00,322.60C537.65,322.40 527.02,322.40 516.20,322.30C505.38,322.20 489.88,322.30 481.10,322.00C472.32,321.70 469.35,320.97 463.50,320.50C457.65,320.03 450.75,319.03 446.00,319.20C441.25,319.37 439.33,320.62 435.00,321.50C430.67,322.38 424.60,323.67 420.00,324.50C415.40,325.33 409.50,326.17 407.40,326.50Z" fill="#F9DDE1"/>
<path d="M410.90,227.50C411.25,229.75 412.15,236.08 413.00,241.00C413.85,245.92 414.83,251.33 416.00,257.00C417.17,262.67 418.50,269.67 420.00,275.00C421.50,280.33 423.33,284.50 425.00,289.00C426.67,293.50 427.82,297.95 430.00,302.00C432.18,306.05 435.43,310.47 438.10,313.30C440.77,316.13 441.77,319.43 446.00,319.00C450.23,318.57 457.67,312.87 463.50,310.70C469.33,308.53 475.15,307.47 481.00,306.00C486.85,304.53 492.73,303.90 498.60,301.90C504.47,299.90 511.22,297.35 516.20,294.00C521.18,290.65 525.03,285.47 528.50,281.80C531.97,278.13 534.08,274.87 537.00,272.00C539.92,269.13 543.03,266.70 546.00,264.60C548.97,262.50 551.88,260.72 554.80,259.40C557.72,258.08 560.87,256.70 563.50,256.70C566.13,256.70 568.25,257.50 570.60,259.40C572.95,261.30 575.27,265.18 577.60,268.10C579.93,271.02 582.08,272.88 584.60,276.90C587.12,280.92 590.00,287.63 592.70,292.20C595.40,296.77 598.43,300.58 600.80,304.30C603.17,308.02 604.88,311.12 606.90,314.50C608.92,317.88 610.55,321.57 612.90,324.60C615.25,327.63 617.95,330.33 621.00,332.70C624.05,335.07 626.87,337.25 631.20,338.80C635.53,340.35 641.25,341.22 647.00,342.00C652.75,342.78 662.58,343.25 665.70,343.50" class="dc"/>
<path d="M410.90,300.70C412.22,301.48 416.02,303.73 418.80,305.40C421.58,307.07 424.67,309.08 427.60,310.70C430.53,312.32 433.33,313.72 436.40,315.10C439.47,316.48 441.48,319.88 446.00,319.00C450.52,318.12 457.65,312.50 463.50,309.80C469.35,307.10 475.25,304.98 481.10,302.80C486.95,300.62 492.75,298.60 498.60,296.70C504.45,294.80 510.35,292.78 516.20,291.40C522.05,290.02 528.73,288.72 533.70,288.40C538.67,288.08 541.92,288.53 546.00,289.50C550.08,290.47 553.13,292.40 558.20,294.20C563.27,296.00 570.27,298.17 576.40,300.30C582.53,302.43 588.57,304.55 595.00,307.00C601.43,309.45 607.50,311.83 615.00,315.00C622.50,318.17 631.55,322.67 640.00,326.00C648.45,329.33 661.42,333.50 665.70,335.00" class="dc"/>
<path d="M410.90,314.20C413.25,314.58 420.65,315.87 425.00,316.50C429.35,317.13 433.50,317.58 437.00,318.00C440.50,318.42 440.12,319.78 446.00,319.00C451.88,318.22 463.53,315.12 472.30,313.30C481.07,311.48 490.70,309.85 498.60,308.10C506.50,306.35 513.63,304.65 519.70,302.80C525.77,300.95 530.62,298.72 535.00,297.00C539.38,295.28 542.12,294.10 546.00,292.50C549.88,290.90 553.92,289.42 558.30,287.40C562.68,285.38 567.03,282.73 572.30,280.40C577.57,278.07 584.05,274.92 589.90,273.40C595.75,271.88 602.43,271.45 607.40,271.30C612.37,271.15 615.32,271.57 619.70,272.50C624.08,273.43 629.02,274.70 633.70,276.90C638.38,279.10 643.48,282.13 647.80,285.70C652.12,289.27 656.62,295.37 659.60,298.30C662.58,301.23 664.68,302.47 665.70,303.30" class="dc"/>
<path d="M410.90,324.70C412.80,324.42 418.35,323.72 422.30,323.00C426.25,322.28 430.65,321.07 434.60,320.40C438.55,319.73 438.43,319.98 446.00,319.00C453.57,318.02 471.23,315.88 480.00,314.50C488.77,313.12 491.93,311.95 498.60,310.70C505.27,309.45 512.10,308.07 520.00,307.00C527.90,305.93 538.28,304.07 546.00,304.30C553.72,304.53 559.53,306.87 566.30,308.40C573.07,309.93 579.83,311.47 586.60,313.50C593.37,315.53 600.15,317.73 606.90,320.60C613.65,323.47 620.35,327.67 627.10,330.70C633.85,333.73 640.97,336.43 647.40,338.80C653.83,341.17 662.65,343.88 665.70,344.90" class="dc"/>
<path d="M410.90,328.20C412.80,327.83 418.35,327.02 422.30,326.00C426.25,324.98 430.65,323.27 434.60,322.10C438.55,320.93 438.43,319.60 446.00,319.00C453.57,318.40 467.67,318.67 480.00,318.50C492.33,318.33 509.00,318.17 520.00,318.00C531.00,317.83 536.67,317.83 546.00,317.50C555.33,317.17 565.85,316.50 576.00,316.00C586.15,315.50 596.68,315.27 606.90,314.50C617.12,313.73 627.50,312.25 637.30,311.40C647.10,310.55 660.97,309.73 665.70,309.40" class="dc"/>
<path d="M410.90,341.40C412.80,340.52 418.93,337.85 422.30,336.10C425.67,334.35 428.17,332.93 431.10,330.90C434.03,328.87 437.42,325.88 439.90,323.90C442.38,321.92 442.07,319.15 446.00,319.00C449.93,318.85 457.65,321.90 463.50,323.00C469.35,324.10 475.25,325.02 481.10,325.60C486.95,326.18 492.12,326.30 498.60,326.50C505.08,326.70 512.10,326.77 520.00,326.80C527.90,326.83 538.28,326.72 546.00,326.70C553.72,326.68 559.53,327.22 566.30,326.70C573.07,326.18 581.53,324.97 586.60,323.60C591.67,322.23 593.32,320.93 596.70,318.50C600.08,316.07 603.52,312.72 606.90,309.00C610.28,305.28 614.30,299.68 617.00,296.20C619.70,292.72 621.18,291.32 623.10,288.10C625.02,284.88 626.43,280.52 628.50,276.90C630.57,273.28 633.32,270.20 635.50,266.40C637.68,262.60 639.85,259.08 641.60,254.10C643.35,249.12 644.83,241.77 646.00,236.50C647.17,231.23 648.10,225.28 648.60,222.50C649.10,219.72 648.93,220.25 649.00,219.80" class="dc"/>
<path d="M410.90,309.00C413.75,309.75 423.48,312.25 428.00,313.50C432.52,314.75 435.00,315.58 438.00,316.50C441.00,317.42 441.75,317.48 446.00,319.00C450.25,320.52 457.65,323.77 463.50,325.60C469.35,327.43 475.25,328.68 481.10,330.00C486.95,331.32 492.75,332.77 498.60,333.50C504.45,334.23 508.30,334.07 516.20,334.40C524.10,334.73 537.65,334.93 546.00,335.50C554.35,336.07 559.53,337.25 566.30,337.80C573.07,338.35 579.32,338.27 586.60,338.80C593.88,339.33 601.55,340.15 610.00,341.00C618.45,341.85 628.02,343.08 637.30,343.90C646.58,344.72 660.97,345.57 665.70,345.90" class="dc"/>
<path d="M410.90,320.50C413.75,320.42 423.48,320.17 428.00,320.00C432.52,319.83 435.00,319.67 438.00,319.50C441.00,319.33 440.67,318.33 446.00,319.00C451.33,319.67 461.00,322.00 470.00,323.50C479.00,325.00 492.30,326.77 500.00,328.00C507.70,329.23 510.58,329.98 516.20,330.90C521.82,331.82 528.07,332.65 533.70,333.50C539.33,334.35 543.95,335.33 550.00,336.00C556.05,336.67 563.90,337.53 570.00,337.50C576.10,337.47 582.15,336.93 586.60,335.80C591.05,334.67 593.63,333.33 596.70,330.70C599.77,328.07 602.50,324.12 605.00,320.00C607.50,315.88 609.55,311.43 611.70,306.00C613.85,300.57 616.42,293.13 617.90,287.40C619.38,281.67 619.72,277.15 620.60,271.60C621.48,266.05 622.47,259.95 623.20,254.10C623.93,248.25 624.57,241.77 625.00,236.50C625.43,231.23 625.63,225.28 625.80,222.50C625.97,219.72 625.97,220.25 626.00,219.80" class="dc"/>
<path d="M410.90,317.00C413.75,317.17 423.48,317.72 428.00,318.00C432.52,318.28 435.00,318.53 438.00,318.70C441.00,318.87 440.67,318.78 446.00,319.00C451.33,319.22 461.00,319.58 470.00,320.00C479.00,320.42 490.00,321.17 500.00,321.50C510.00,321.83 520.00,322.58 530.00,322.00C540.00,321.42 550.83,319.67 560.00,318.00C569.17,316.33 578.33,314.17 585.00,312.00C591.67,309.83 595.50,307.83 600.00,305.00C604.50,302.17 608.67,298.33 612.00,295.00C615.33,291.67 617.00,289.17 620.00,285.00C623.00,280.83 626.67,275.00 630.00,270.00C633.33,265.00 637.50,259.67 640.00,255.00C642.50,250.33 643.50,246.17 645.00,242.00C646.50,237.83 648.03,233.70 649.00,230.00C649.97,226.30 650.50,221.50 650.80,219.80" class="dc"/>
<path d="M582.30,219.80C581.80,222.00 580.53,228.17 579.30,233.00C578.07,237.83 576.65,243.82 574.90,248.80C573.15,253.78 570.70,258.80 568.80,262.90C566.90,267.00 565.25,269.60 563.50,273.40C561.75,277.20 560.55,281.27 558.30,285.70C556.05,290.13 553.05,295.95 550.00,300.00C546.95,304.05 544.17,307.50 540.00,310.00C535.83,312.50 527.50,314.17 525.00,315.00" class="dc"/>
<path d="M588.20,219.80C588.03,222.58 587.65,230.78 587.20,236.50C586.75,242.22 586.23,248.53 585.50,254.10C584.77,259.67 583.68,264.35 582.80,269.90C581.92,275.45 581.17,282.38 580.20,287.40C579.23,292.42 578.37,295.90 577.00,300.00C575.63,304.10 574.00,308.33 572.00,312.00C570.00,315.67 566.17,320.33 565.00,322.00" class="dc"/>
<line x1="396.6" y1="319.30" x2="686" y2="319.30" class="ab"/>
<path d="M407.40,317.70C410.33,317.78 418.57,317.98 425.00,318.20C431.43,318.42 436.65,319.23 446.00,319.00C455.35,318.77 469.40,317.52 481.10,316.80C492.80,316.08 505.38,315.38 516.20,314.70C527.02,314.02 537.65,313.48 546.00,312.70C554.35,311.92 559.53,310.72 566.30,310.00C573.07,309.28 579.83,308.83 586.60,308.40C593.37,307.97 600.15,307.63 606.90,307.40C613.65,307.17 620.35,307.00 627.10,307.00C633.85,307.00 639.52,307.00 647.40,307.40C655.28,307.80 669.90,309.07 674.40,309.40" class="rl"/>
</g>
<path d="M396.6,219.80V351.30H686" class="ax"/>
<line x1="390.30" y1="346.40" x2="396.6" y2="346.40" class="tk"/>
<line x1="390.30" y1="319.30" x2="396.6" y2="319.30" class="tk"/>
<line x1="390.30" y1="292.20" x2="396.6" y2="292.20" class="tk"/>
<line x1="390.30" y1="265.10" x2="396.6" y2="265.10" class="tk"/>
<line x1="390.30" y1="238.00" x2="396.6" y2="238.00" class="tk"/>
<line x1="403.40" y1="351.3" x2="403.40" y2="357.30" class="tk"/>
<line x1="476.46" y1="351.3" x2="476.46" y2="357.30" class="tk"/>
<line x1="549.52" y1="351.3" x2="549.52" y2="357.30" class="tk"/>
<line x1="622.58" y1="351.3" x2="622.58" y2="357.30" class="tk"/>
<line x1="412.2" y1="233.5" x2="430.0" y2="233.5" stroke="#DF536B" stroke-width="1.15"/>
<line x1="412.40000000000003" y1="241.60000000000002" x2="430.0" y2="241.60000000000002" stroke="#999" stroke-width="0.85" stroke-dasharray="3.5 3.9"/>
<g class="txt">
<text x="31.50" y="135.40" transform="rotate(-90 31.50 135.40)" class="tl" text-anchor="middle" dy="0">0</text>
<text x="31.50" y="108.35" transform="rotate(-90 31.50 108.35)" class="tl" text-anchor="middle" dy="0">1</text>
<text x="31.50" y="81.30" transform="rotate(-90 31.50 81.30)" class="tl" text-anchor="middle" dy="0">2</text>
<text x="31.50" y="54.25" transform="rotate(-90 31.50 54.25)" class="tl" text-anchor="middle" dy="0">3</text>
<text x="31.50" y="27.20" transform="rotate(-90 31.50 27.20)" class="tl" text-anchor="middle" dy="0">4</text>
<text x="80.50" y="161.90" class="tl" text-anchor="middle">0</text>
<text x="150.30" y="161.90" class="tl" text-anchor="middle">10</text>
<text x="220.10" y="161.90" class="tl" text-anchor="middle">20</text>
<text x="289.50" y="161.90" class="tl" text-anchor="middle">30</text>
<text x="150.8" y="183.2" class="lb">Temperature (</text>
<circle cx="215.9" cy="178.3" r="1.25" fill="none" stroke="#000" stroke-width="0.55"/>
<text x="218.0" y="183.2" class="lb">C)</text>
<text x="8.2" y="74.60" transform="rotate(-90 8.2 74.60)" class="lb" text-anchor="middle">RR</text>
<text x="190.00" y="7.0" class="ti" text-anchor="middle">Main model: first−stage and pooled estimates</text>
<text x="86.3" y="25.5" class="lg">Pooled (with 95%CI)</text>
<text x="86.3" y="33.5" class="lg" textLength="101.6" lengthAdjust="spacing">First−stage region−specific</text>
<text x="382.10" y="135.40" transform="rotate(-90 382.10 135.40)" class="tl" text-anchor="middle" dy="0">0</text>
<text x="382.10" y="108.35" transform="rotate(-90 382.10 108.35)" class="tl" text-anchor="middle" dy="0">1</text>
<text x="382.10" y="81.30" transform="rotate(-90 382.10 81.30)" class="tl" text-anchor="middle" dy="0">2</text>
<text x="382.10" y="54.25" transform="rotate(-90 382.10 54.25)" class="tl" text-anchor="middle" dy="0">3</text>
<text x="382.10" y="27.20" transform="rotate(-90 382.10 27.20)" class="tl" text-anchor="middle" dy="0">4</text>
<text x="414.60" y="161.90" class="tl" text-anchor="middle">30</text>
<text x="451.74" y="161.90" class="tl" text-anchor="middle">40</text>
<text x="488.88" y="161.90" class="tl" text-anchor="middle">50</text>
<text x="526.02" y="161.90" class="tl" text-anchor="middle">60</text>
<text x="563.16" y="161.90" class="tl" text-anchor="middle">70</text>
<text x="600.30" y="161.90" class="tl" text-anchor="middle">80</text>
<text x="637.44" y="161.90" class="tl" text-anchor="middle">90</text>
<text x="674.58" y="161.90" class="tl" text-anchor="middle">100</text>
<text x="540.50" y="186.0" class="lb" text-anchor="middle">Relative humidity (%)</text>
<text x="358.2" y="74.60" transform="rotate(-90 358.2 74.60)" class="lb" text-anchor="middle">RR</text>
<text x="540.50" y="7.0" class="ti" text-anchor="middle">Main model: first−stage and pooled estimates</text>
<text x="440.6" y="25.5" class="lg">Pooled (with 95%CI)</text>
<text x="440.6" y="33.5" class="lg" textLength="101.6" lengthAdjust="spacing">First−stage region−specific</text>
<text x="31.70" y="346.40" transform="rotate(-90 31.70 346.40)" class="tl" text-anchor="middle" dy="0">0</text>
<text x="31.70" y="319.30" transform="rotate(-90 31.70 319.30)" class="tl" text-anchor="middle" dy="0">1</text>
<text x="31.70" y="292.20" transform="rotate(-90 31.70 292.20)" class="tl" text-anchor="middle" dy="0">2</text>
<text x="31.70" y="265.10" transform="rotate(-90 31.70 265.10)" class="tl" text-anchor="middle" dy="0">3</text>
<text x="31.70" y="238.00" transform="rotate(-90 31.70 238.00)" class="tl" text-anchor="middle" dy="0">4</text>
<text x="56.40" y="372.80" class="tl" text-anchor="middle">0</text>
<text x="98.12" y="372.80" class="tl" text-anchor="middle">2</text>
<text x="139.84" y="372.80" class="tl" text-anchor="middle">4</text>
<text x="181.56" y="372.80" class="tl" text-anchor="middle">6</text>
<text x="223.28" y="372.80" class="tl" text-anchor="middle">8</text>
<text x="265.00" y="372.80" class="tl" text-anchor="middle">10</text>
<text x="306.72" y="372.80" class="tl" text-anchor="middle">12</text>
<text x="189.85" y="396.5" class="lb" text-anchor="middle">Sunshine duration (h)</text>
<text x="8.2" y="285.55" transform="rotate(-90 8.2 285.55)" class="lb" text-anchor="middle">RR</text>
<text x="189.85" y="217.8" class="ti" text-anchor="middle">Main model: first−stage and pooled estimates</text>
<text x="90.4" y="236.5" class="lg">Pooled (with 95%CI)</text>
<text x="90.4" y="244.5" class="lg" textLength="101.6" lengthAdjust="spacing">First−stage region−specific</text>
<text x="382.10" y="346.40" transform="rotate(-90 382.10 346.40)" class="tl" text-anchor="middle" dy="0">0</text>
<text x="382.10" y="319.30" transform="rotate(-90 382.10 319.30)" class="tl" text-anchor="middle" dy="0">1</text>
<text x="382.10" y="292.20" transform="rotate(-90 382.10 292.20)" class="tl" text-anchor="middle" dy="0">2</text>
<text x="382.10" y="265.10" transform="rotate(-90 382.10 265.10)" class="tl" text-anchor="middle" dy="0">3</text>
<text x="382.10" y="238.00" transform="rotate(-90 382.10 238.00)" class="tl" text-anchor="middle" dy="0">4</text>
<text x="403.40" y="372.80" class="tl" text-anchor="middle">0</text>
<text x="476.46" y="372.80" class="tl" text-anchor="middle">2</text>
<text x="549.52" y="372.80" class="tl" text-anchor="middle">4</text>
<text x="622.58" y="372.80" class="tl" text-anchor="middle">6</text>
<text x="541.00" y="396.5" class="lb" text-anchor="middle">Wind speed (m/s)</text>
<text x="358.2" y="285.55" transform="rotate(-90 358.2 285.55)" class="lb" text-anchor="middle">RR</text>
<text x="541.00" y="217.8" class="ti" text-anchor="middle">Main model: first−stage and pooled estimates</text>
<text x="437.7" y="236.5" class="lg">Pooled (with 95%CI)</text>
<text x="437.7" y="244.5" class="lg" textLength="101.6" lengthAdjust="spacing">First−stage region−specific</text>
</g>
</svg></body></html>
